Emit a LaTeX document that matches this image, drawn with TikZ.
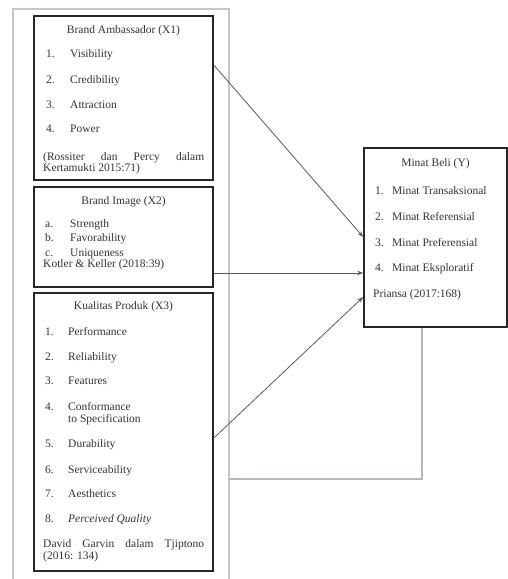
\documentclass[tikz,border=0pt]{standalone}
\usepackage{fontspec}
\setmainfont{Liberation Serif}
\usetikzlibrary{arrows.meta,calc}
\definecolor{framegray}{HTML}{C2C5CD}
\definecolor{fbgray}{HTML}{B4B8C2}
\definecolor{txt}{HTML}{333333}
\definecolor{arrgray}{HTML}{5A5A5A}
\tikzset{
  varbox/.style={draw=black!85, line width=1.6pt, inner sep=0pt, fill=none},
  lbl/.style={anchor=base west, inner sep=0pt, text=txt, font=\fontsize{11.5}{12}\selectfont},
  ttl/.style={anchor=base, inner sep=0pt, text=txt, font=\fontsize{11.5}{12}\selectfont},
  arr/.style={draw=arrgray, line width=0.8pt, -{Stealth[length=6pt,width=4.5pt]}},
  outerframe/.style={draw=framegray, line width=1.4pt},
  fbline/.style={draw=fbgray, line width=1.8pt}
}
\begin{document}
\begin{tikzpicture}[x=1pt,y=-1pt]
\useasboundingbox (0,0) rectangle (508,579);
% outer frame
\coordinate (ofbl) at (13,579);
\coordinate (oftl) at (13,9);
\coordinate (oftr) at (229,9);
\coordinate (ofbr) at (229,579);
\draw[outerframe] (ofbl) -- (oftl) -- (oftr) -- (ofbr);

% boxes
\node[varbox, minimum width=179pt, minimum height=164pt] (x1) at (123.5,98) {};
\node[varbox, minimum width=179pt, minimum height=100pt] (x2) at (123.5,237) {};
\node[varbox, minimum width=179pt, minimum height=278pt] (x3) at (123.5,432) {};
\node[varbox, minimum width=143pt, minimum height=179pt] (yb) at (435.5,237.5) {};

% X1 text
\node[ttl] (x1t) at (123.5,33) {Brand Ambassador (X1)};
\node[lbl] (x1n1) at (46,57) {1.};  \node[lbl] (x1i1) at (70,57) {Visibility};
\node[lbl] (x1n2) at (46,83) {2.};  \node[lbl] (x1i2) at (70,83) {Credibility};
\node[lbl] (x1n3) at (46,108) {3.}; \node[lbl] (x1i3) at (70,108) {Attraction};
\node[lbl] (x1n4) at (46,132) {4.}; \node[lbl] (x1i4) at (70,132) {Power};
\node[lbl] (x1c1) at (43,160) {\makebox[161pt][s]{(Rossiter dan Percy dalam}};
\node[lbl] (x1c2) at (43,171) {Kertamukti 2015:71)};

% X2 text
\node[ttl] (x2t) at (123.5,204) {Brand Image (X2)};
\node[lbl] (x2n1) at (45,227) {a.}; \node[lbl] (x2i1) at (70,227) {Strength};
\node[lbl] (x2n2) at (45,241) {b.}; \node[lbl] (x2i2) at (70,241) {Favorability};
\node[lbl] (x2n3) at (45,256) {c.}; \node[lbl] (x2i3) at (70,256) {Uniqueness};
\node[lbl] (x2c) at (43,267) {Kotler \& Keller (2018:39)};

% X3 text
\node[ttl] (x3t) at (123.5,309) {Kualitas Produk (X3)};
\node[lbl] (x3n1) at (45,335) {1.}; \node[lbl] (x3i1) at (68,335) {Performance};
\node[lbl] (x3n2) at (45,360) {2.}; \node[lbl] (x3i2) at (68,360) {Reliability};
\node[lbl] (x3n3) at (45,384) {3.}; \node[lbl] (x3i3) at (68,384) {Features};
\node[lbl] (x3n4) at (45,410) {4.}; \node[lbl] (x3i4) at (68,410) {Conformance};
\node[lbl] (x3i4b) at (68,422) {to Specification};
\node[lbl] (x3n5) at (45,447) {5.}; \node[lbl] (x3i5) at (68,447) {Durability};
\node[lbl] (x3n6) at (45,473) {6.}; \node[lbl] (x3i6) at (68,473) {Serviceability};
\node[lbl] (x3n7) at (45,497) {7.}; \node[lbl] (x3i7) at (68,497) {Aesthetics};
\node[lbl] (x3n8) at (45,522) {8.}; \node[lbl] (x3i8) at (68,522) {\itshape Perceived Quality};
\node[lbl] (x3c1) at (43,547) {\makebox[161pt][s]{David Garvin dalam Tjiptono}};
\node[lbl] (x3c2) at (43,559) {(2016: 134)};

% Y text
\node[ttl] (yt) at (435.5,166) {Minat Beli (Y)};
\node[lbl] (yn1) at (375,194) {1.}; \node[lbl] (yi1) at (392,194) {Minat Transaksional};
\node[lbl] (yn2) at (375,220) {2.}; \node[lbl] (yi2) at (392,220) {Minat Referensial};
\node[lbl] (yn3) at (375,246) {3.}; \node[lbl] (yi3) at (392,246) {Minat Preferensial};
\node[lbl] (yn4) at (375,271) {4.}; \node[lbl] (yi4) at (392,271) {Minat Eksploratif};
\node[lbl] (yc) at (373,297) {Priansa (2017:168)};

% arrows
\coordinate (h1s) at (0,65);
\coordinate (h1e) at (0,237);
\coordinate (h2) at (0,273);
\coordinate (h3s) at (0,438);
\coordinate (h3e) at (0,297);
\draw[arr] (x1.east |- h1s) -- (yb.west |- h1e);
\draw[arr] (x2.east |- h2) -- (yb.west |- h2);
\draw[arr] (x3.east |- h3s) -- (yb.west |- h3e);

% feedback line
\coordinate (fbx) at (422,0);
\coordinate (fbcorner) at (422,479);
\coordinate (fbend) at (229,479);
\draw[fbline] (yb.south -| fbx) -- (fbcorner) -- (fbend);
\end{tikzpicture}
\end{document}
